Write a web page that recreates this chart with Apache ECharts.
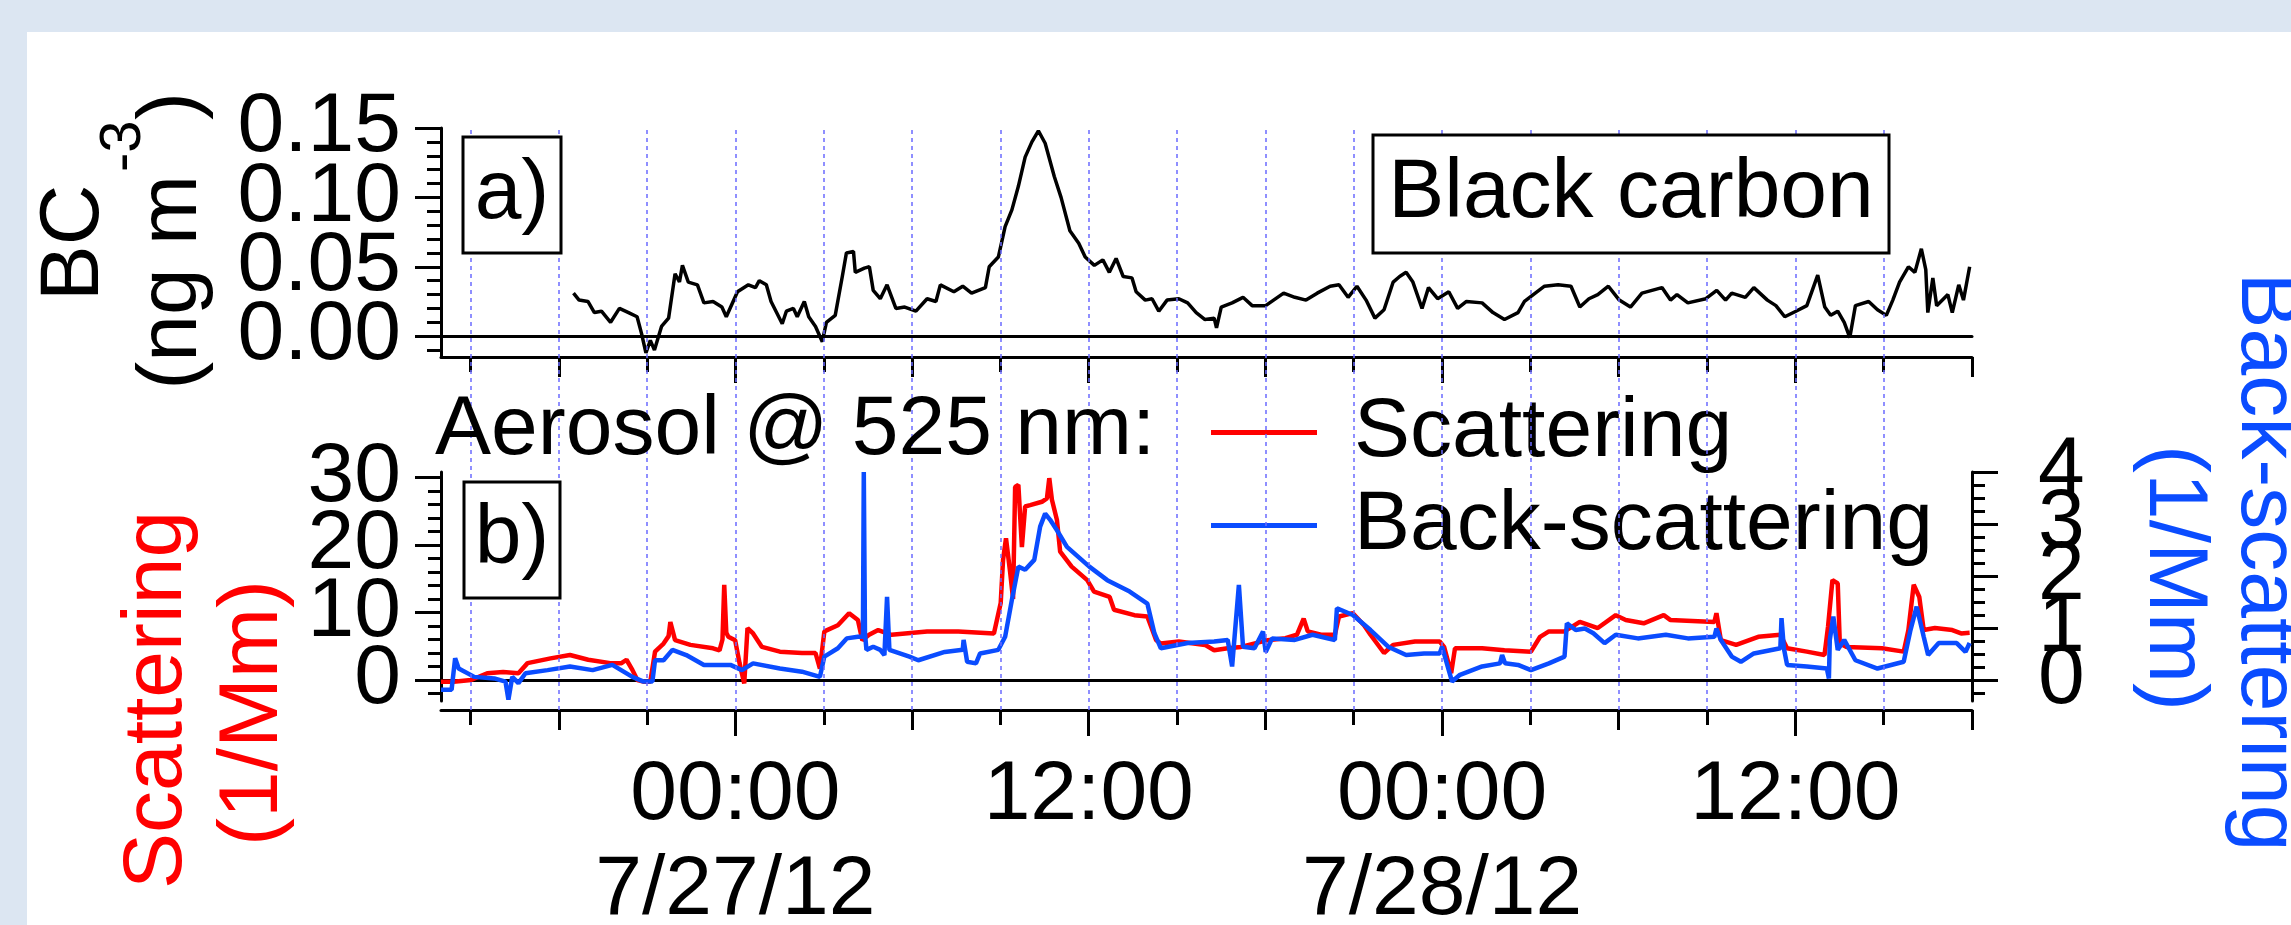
<!DOCTYPE html>
<html>
<head>
    <meta charset="utf-8">
    <title>Black carbon and aerosol scattering</title>
    <script src="https://cdn.jsdelivr.net/npm/echarts@6/dist/echarts.min.js"></script>
    <style>
        html, body { margin: 0; padding: 0; background: #dce6f2; overflow: hidden; }
        #sheet { position: absolute; left: 27px; top: 32px; width: 2264px; height: 893px; background: #fff; }
        #main { position: absolute; left: 0; top: 0; width: 2291px; height: 925px; }
    </style>
</head>
<body>
    <div id="sheet"></div>
    <div id="main"></div>
    <script type="text/javascript">
        // time is in hours from 7/27/12 00:00
        var bcHours = [-5.5,-5.31,-5.01,-4.79,-4.55,-4.24,-3.94,-3.63,-3.34,-3.19,
            -3.04,-2.89,-2.75,-2.51,-2.27,-2.05,-1.9,-1.8,-1.6,-1.29,
            -1.07,-0.76,-0.46,-0.31,0.07,0.44,0.68,0.81,1.05,1.21,
            1.59,1.73,1.97,2.1,2.34,2.49,2.72,2.95,3.09,3.39,
            3.63,3.77,4.01,4.07,4.38,4.55,4.68,4.92,5.15,5.45,
            5.75,6.13,6.51,6.81,6.96,7.42,7.72,8.02,8.49,8.62,
            8.93,9.16,9.39,9.61,9.84,10.07,10.29,10.52,10.83,11.06,
            11.36,11.66,11.88,12.19,12.48,12.7,12.93,13.17,13.47,13.61,
            13.92,14.15,14.38,14.66,15.06,15.36,15.65,15.95,16.26,16.34,
            16.5,16.87,17.24,17.55,18.01,18.62,19.0,19.38,19.76,20.2,
            20.5,20.81,21.11,21.42,21.72,22.03,22.34,22.56,22.78,23.01,
            23.32,23.54,23.85,24.23,24.53,24.83,25.36,25.73,26.12,26.58,
            26.8,27.1,27.48,27.94,28.38,28.68,28.99,29.29,29.65,30.02,
            30.4,30.79,31.47,31.76,31.98,32.35,32.96,33.33,33.63,33.84,
            34.3,34.59,35.05,35.34,35.64,36.02,36.39,36.76,37.0,37.2,
            37.44,37.66,37.85,38.04,38.49,38.79,39.09,39.31,39.54,39.84,
            40.06,40.28,40.43,40.5,40.67,40.8,41.18,41.33,41.55,41.71,
            41.92];
        var bcValues = [0.031,0.026,0.025,0.017,0.018,0.010,0.020,0.017,0.014,0.002,
            -0.012,-0.003,-0.010,0.007,0.013,0.045,0.039,0.051,0.039,0.037,
            0.024,0.025,0.021,0.014,0.032,0.037,0.035,0.040,0.037,0.025,
            0.009,0.018,0.020,0.014,0.025,0.014,0.007,-0.004,0.010,0.015,
            0.043,0.060,0.061,0.046,0.049,0.050,0.033,0.027,0.037,0.020,
            0.021,0.018,0.027,0.025,0.037,0.032,0.036,0.031,0.035,0.050,
            0.057,0.079,0.091,0.108,0.129,0.140,0.148,0.139,0.115,0.100,
            0.076,0.067,0.057,0.051,0.055,0.046,0.056,0.043,0.042,0.032,
            0.026,0.027,0.018,0.026,0.027,0.024,0.017,0.012,0.013,0.006,
            0.021,0.024,0.028,0.022,0.022,0.031,0.028,0.026,0.031,0.036,
            0.037,0.028,0.036,0.026,0.013,0.019,0.039,0.043,0.046,0.039,
            0.020,0.035,0.027,0.032,0.020,0.025,0.024,0.017,0.012,0.017,
            0.025,0.030,0.036,0.037,0.036,0.021,0.027,0.030,0.036,0.026,
            0.021,0.031,0.035,0.026,0.030,0.024,0.027,0.033,0.026,0.031,
            0.028,0.035,0.026,0.022,0.014,0.018,0.022,0.044,0.021,0.015,
            0.018,0.010,-0.001,0.022,0.025,0.019,0.015,0.026,0.039,0.050,
            0.046,0.063,0.048,0.017,0.042,0.022,0.030,0.017,0.037,0.026,
            0.050];

        var scatHours = [-10,-9.57,-8.98,-8.43,-7.89,-7.37,-7.06,-6.28,-5.62,-5,
            -4.25,-3.87,-3.7,-3.5,-3.33,-3.12,-2.89,-2.73,-2.44,-2.27,
            -2.21,-2.05,-1.53,-0.76,-0.54,-0.44,-0.38,-0.31,-0.24,-0.01,
            0.14,0.3,0.41,0.6,0.9,1.51,2.26,2.72,2.87,3.02,
            3.48,3.86,4.16,4.31,4.54,4.85,5.3,6.51,7.57,8.78,
            9.01,9.09,9.19,9.33,9.43,9.5,9.61,9.73,9.84,10.01,
            10.41,10.58,10.66,10.75,10.92,11.03,11.42,11.95,12.18,12.71,
            12.86,13.55,13.99,14.29,14.45,15.06,15.95,16.26,16.72,17.17,
            18.08,18.68,19.07,19.3,19.44,19.89,20.36,20.5,20.97,21.35,
            21.57,22.03,22.34,23.08,23.92,24.07,24.31,24.44,25.36,26.12,
            27.02,27.33,27.63,28.16,28.68,29.29,29.9,30.24,30.85,31.53,
            31.75,33.25,33.32,33.47,33.99,34.74,35.49,35.72,36.39,36.99,
            37.11,37.26,37.44,37.51,37.74,38.94,39.68,39.84,40.02,40.21,
            40.36,40.74,41.33,41.63,41.92];
        var scatValues = [-0.25,-0.25,0,1.0,1.2,1.0,2.5,3.2,3.7,3.0,
            2.5,2.5,3.0,1.5,0,-0.25,-0.25,4.2,5.4,6.5,
            8.6,5.9,5.2,4.7,4.4,6.0,14.1,7.0,6.4,5.9,
            2.5,-0.5,7.7,6.9,4.9,4.2,4.0,4.0,1.7,7.2,
            8.1,9.9,8.9,5.9,6.7,7.4,6.7,7.2,7.2,6.9,
            11.4,17.8,21.0,16.0,12.0,28.6,28.9,19.7,25.7,25.9,
            26.4,26.9,29.9,26.7,23.7,19.0,16.8,14.8,13.1,12.3,
            10.4,9.6,9.4,5.9,5.4,5.7,5.2,4.4,4.7,4.9,
            5.9,6.2,6.7,9.1,7.2,6.7,6.7,9.4,9.9,8.1,
            6.7,4.0,5.2,5.7,5.7,4.9,1.0,4.7,4.7,4.4,
            4.2,6.4,7.2,7.2,8.6,7.7,9.6,8.9,8.4,9.6,
            8.9,8.6,9.9,5.9,5.2,6.4,6.7,4.7,4.2,3.7,
            7.9,14.8,14.3,5.4,4.9,4.7,4.2,7.4,14.1,12.3,
            7.4,7.7,7.4,6.9,7.0];

        var backHours = [-10,-9.64,-9.52,-9.4,-8.87,-8.19,-7.81,-7.71,-7.58,-7.37,
            -7.13,-6.38,-5.62,-4.85,-4.18,-3.5,-3.12,-2.82,-2.73,-2.44,
            -2.14,-1.67,-1.07,-0.17,0.22,0.6,1.51,2.26,2.87,3.02,
            3.48,3.78,4.16,4.33,4.36,4.4,4.45,4.68,4.92,5.06,
            5.15,5.23,5.91,6.21,7.11,7.72,7.75,7.87,8.17,8.31,
            8.93,9.16,9.39,9.61,9.84,10.15,10.35,10.52,10.69,10.92,
            11.26,12.02,12.63,13.39,13.99,14.23,14.45,15.36,16.26,16.72,
            16.87,17.1,17.24,17.63,17.92,18.01,18.23,19,19.6,20.36,
            20.43,20.97,21.57,22.17,22.78,23.39,23.92,24,24.34,24.61,
            25.36,25.97,26.04,26.14,26.58,27.02,27.63,28.16,28.24,28.54,
            28.85,29.14,29.52,29.9,30.65,31.6,32.35,33.25,33.32,33.47,
            33.84,34.15,34.59,35.49,35.53,35.61,35.72,36.39,37.07,37.14,
            37.17,37.29,37.44,37.66,38.04,38.79,39.68,39.91,40.12,40.36,
            40.51,40.87,41.48,41.78,41.92];
        var backValues = [-0.19,-0.19,0.42,0.22,0.06,0.03,-0.03,-0.38,0.06,-0.06,
            0.13,0.19,0.26,0.19,0.29,0.06,-0.03,-0.03,0.38,0.38,
            0.58,0.48,0.29,0.29,0.19,0.32,0.22,0.16,0.06,0.45,
            0.61,0.8,0.83,0.83,4.0,0.9,0.58,0.64,0.58,0.48,
            1.6,0.58,0.45,0.38,0.54,0.58,0.77,0.35,0.32,0.51,
            0.58,0.83,1.54,2.18,2.12,2.31,2.95,3.2,3.08,2.88,
            2.56,2.18,1.92,1.7,1.47,0.9,0.61,0.71,0.74,0.77,
            0.26,1.83,0.64,0.61,0.93,0.54,0.8,0.77,0.87,0.77,
            1.38,1.25,0.96,0.64,0.48,0.51,0.51,0.64,-0.03,0.1,
            0.26,0.32,0.48,0.32,0.29,0.19,0.32,0.45,1.09,0.96,
            0.99,0.9,0.71,0.87,0.8,0.87,0.8,0.83,0.99,0.77,
            0.45,0.35,0.51,0.61,1.19,0.61,0.29,0.26,0.22,0.03,
            0.77,1.22,0.58,0.77,0.38,0.22,0.35,0.96,1.41,0.83,
            0.48,0.71,0.71,0.54,0.71];

        // ticks and labels
        var hourTicksLong = [0, 12, 24, 36];
        var hourTicksMid = [-6, 6, 18, 30, 42];
        var hourTicksShort = [-9, -3, 3, 9, 15, 21, 27, 33, 39];
        var guideHours = [-9, -6, -3, 0, 3, 6, 9, 12, 15, 18, 21, 24, 27, 30, 33, 36, 39];
        var timeLabelHours = [0, 12, 24, 36];
        var timeLabelText = ['00:00\n7/27/12', '12:00', '00:00\n7/28/12', '12:00'];
        var bcTicks = [0, 0.05, 0.10, 0.15];
        var bcMinor = [-0.01, 0.01, 0.02, 0.03, 0.04, 0.06, 0.07, 0.08, 0.09, 0.11, 0.12, 0.13, 0.14];
        var bcLabelSets = [[0, 0.10], [0.05, 0.15]];
        var scatTicks = [0, 10, 20, 30];
        var scatMinor = [-2, 2, 4, 6, 8, 12, 14, 16, 18, 22, 24, 26, 28];
        var scatLabelSets = [[0, 20], [10, 30]];
        var backTicks = [0, 1, 2, 3, 4];
        var backMinor = [-0.25, 0.25, 0.5, 0.75, 1.25, 1.5, 1.75, 2.25, 2.5, 2.75, 3.25, 3.5, 3.75];
        var backLabelSets = [[0, 3], [1, 4], [2]];

        var FONT = "'Liberation Sans', Arial, Helvetica, sans-serif";
        var RED = '#ff0000';
        var BLUE = '#0a4cff';
        var BLACK_LINE = { color: '#000', width: 3 };

        function pairs(xs, ys) {
            return xs.map(function (x, i) { return [x, ys[i]]; });
        }

        function hourAxis(grid, ticks, len, extra) {
            var ax = {
                type: 'value', gridIndex: grid, position: 'bottom', min: -10, max: 42,
                axisLine: { show: false, onZero: false },
                axisTick: { show: true, customValues: ticks, length: len, lineStyle: BLACK_LINE },
                axisLabel: { show: false },
                splitLine: { show: false }
            };
            return Object.assign(ax, extra || {});
        }

        function zeroAxis(grid) {
            return {
                type: 'value', gridIndex: grid, position: 'bottom', min: -10, max: 42,
                axisLine: { show: true, onZero: true, lineStyle: BLACK_LINE },
                axisTick: { show: false }, axisLabel: { show: false }, splitLine: { show: false }
            };
        }

        // axis line + ticks only
        function tickAxis(grid, pos, min, max, ticks, len, line) {
            return {
                type: 'value', gridIndex: grid, position: pos, min: min, max: max,
                axisLine: { show: line, onZero: false, lineStyle: BLACK_LINE },
                axisTick: { show: true, customValues: ticks, length: len, lineStyle: BLACK_LINE },
                axisLabel: { show: false },
                splitLine: { show: false }
            };
        }

        // labels only, a few per axis so none of them get dropped
        function labelAxis(grid, pos, min, max, values, margin, fmt) {
            return {
                type: 'value', gridIndex: grid, position: pos, min: min, max: max,
                axisLine: { show: false, onZero: false },
                axisTick: { show: false },
                axisLabel: {
                    show: true, customValues: values, color: '#000',
                    fontSize: 84, fontFamily: FONT, margin: margin,
                    showMinLabel: true, showMaxLabel: true, hideOverlap: false,
                    formatter: fmt
                },
                splitLine: { show: false }
            };
        }

        var bcFmt = function (v) { return v.toFixed(2); };
        var intFmt = function (v) { return String(Math.round(v)); };

        var yAxes = [
            tickAxis(0, 'left', -0.015, 0.15, bcTicks, 26, true),
            tickAxis(0, 'left', -0.015, 0.15, bcMinor, 14, false),
            labelAxis(0, 'left', -0.015, 0.15, bcLabelSets[0], 40, bcFmt),
            labelAxis(0, 'left', -0.015, 0.15, bcLabelSets[1], 40, bcFmt),
            tickAxis(1, 'left', -3.11, 30.81, scatTicks, 26, true),
            tickAxis(1, 'left', -3.11, 30.81, scatMinor, 13, false),
            labelAxis(1, 'left', -3.11, 30.81, scatLabelSets[0], 40, intFmt),
            labelAxis(1, 'left', -3.11, 30.81, scatLabelSets[1], 40, intFmt),
            tickAxis(1, 'right', -0.404, 4.0, backTicks, 26, true),
            tickAxis(1, 'right', -0.404, 4.0, backMinor, 13, false),
            labelAxis(1, 'right', -0.404, 4.0, backLabelSets[0], 66, intFmt),
            labelAxis(1, 'right', -0.404, 4.0, backLabelSets[1], 66, intFmt),
            labelAxis(1, 'right', -0.404, 4.0, backLabelSets[2], 66, intFmt),
            { type: 'value', gridIndex: 2, min: 0, max: 1, show: false }
        ];

        var mainLine = { show: true, onZero: false, lineStyle: BLACK_LINE };

        function txt(x, y, text, opts) {
            opts = opts || {};
            var align = opts.align || 'center';
            return {
                type: 'text', z: 51, x: x, y: y, rotation: opts.rotation || 0,
                style: {
                    text: text, fontSize: opts.size || 84, fontFamily: FONT, fill: opts.color || '#000',
                    align: align, verticalAlign: 'middle', textAlign: align, textVerticalAlign: 'middle'
                }
            };
        }

        function box(x, y, w, h) {
            return { type: 'rect', z: 50, shape: { x: x, y: y, width: w, height: h }, style: { fill: '#fff', stroke: '#000', lineWidth: 3 } };
        }

        var myChart = echarts.init(document.getElementById('main'), null, { renderer: 'canvas' });

        var option = {
            backgroundColor: 'transparent',
            animation: false,
            grid: [
                { left: 441, right: 319, top: 128, height: 229, outerBoundsMode: 'none' },
                { left: 441, right: 319, top: 472, height: 229, outerBoundsMode: 'none' },
                { left: 441, right: 319, top: 128, height: 582, outerBoundsMode: 'none' }
            ],
            legend: {
                data: ['Scattering', 'Back-scattering'],
                orient: 'vertical',
                left: 1211, top: 386,
                padding: 0, itemGap: 0,
                itemWidth: 106, itemHeight: 5,
                icon: 'rect',
                textStyle: { color: '#000', fontSize: 84, fontFamily: FONT, lineHeight: 93, padding: [0, 0, 0, 32] }
            },
            xAxis: [
                hourAxis(0, hourTicksLong, 26, { axisLine: mainLine }),
                hourAxis(0, hourTicksMid, 20),
                hourAxis(0, hourTicksShort, 15),
                zeroAxis(0),
                hourAxis(1, hourTicksLong, 26, {
                    offset: 9,
                    axisLine: mainLine,
                    axisLabel: {
                        show: true, customValues: timeLabelHours, color: '#000',
                        fontSize: 84, fontFamily: FONT, lineHeight: 95, margin: 38,
                        formatter: function (v) {
                            var i = timeLabelHours.indexOf(Math.round(v));
                            return i < 0 ? '' : timeLabelText[i];
                        }
                    }
                }),
                hourAxis(1, hourTicksMid, 20, { offset: 9 }),
                hourAxis(1, hourTicksShort, 15, { offset: 9 }),
                zeroAxis(1),
                { type: 'value', gridIndex: 2, min: -10, max: 42, show: false }
            ],
            yAxis: yAxes,
            series: [
                {
                    name: 'guides', type: 'line', xAxisIndex: 8, yAxisIndex: 13, data: [], z: 1,
                    markLine: {
                        silent: true, symbol: 'none', animation: false,
                        label: { show: false },
                        lineStyle: { color: '#6b6bff', width: 1.5, type: [4, 4] },
                        data: guideHours.map(function (h) { return { xAxis: h }; })
                    }
                },
                {
                    name: 'Black carbon', type: 'line', xAxisIndex: 0, yAxisIndex: 0, z: 3,
                    data: pairs(bcHours, bcValues), symbol: 'none',
                    lineStyle: { color: '#000', width: 3.5 }, itemStyle: { color: '#000' }
                },
                {
                    name: 'Scattering', type: 'line', xAxisIndex: 4, yAxisIndex: 4, z: 3,
                    data: pairs(scatHours, scatValues), symbol: 'none',
                    lineStyle: { color: RED, width: 4.5 }, itemStyle: { color: RED }
                },
                {
                    name: 'Back-scattering', type: 'line', xAxisIndex: 4, yAxisIndex: 8, z: 4,
                    data: pairs(backHours, backValues), symbol: 'none',
                    lineStyle: { color: BLUE, width: 4.5 }, itemStyle: { color: BLUE }
                }
            ],
            graphic: [
                box(463, 137, 98, 116), txt(512, 195, 'a)'),
                box(464, 482, 96, 116), txt(512, 540, 'b)'),
                box(1373, 135, 516, 118), txt(1631, 194, 'Black carbon'),
                txt(435, 431, 'Aerosol @ 525 nm:', { align: 'left' }),
                txt(75, 243, 'BC', { rotation: Math.PI / 2 }),
                txt(173, 175, '(ng m', { rotation: Math.PI / 2, align: 'right' }),
                txt(124, 172, '-3', { rotation: Math.PI / 2, align: 'left', size: 58 }),
                txt(173, 120, ')', { rotation: Math.PI / 2, align: 'left' }),
                txt(158, 700, 'Scattering', { rotation: Math.PI / 2, color: RED }),
                txt(254, 713, '(1/Mm)', { rotation: Math.PI / 2, color: RED }),
                txt(2173, 578, '(1/Mm)', { rotation: -Math.PI / 2, color: BLUE }),
                txt(2265, 562, 'Back-scattering', { rotation: -Math.PI / 2, color: BLUE })
            ]
        };

        myChart.setOption(option);
    </script>
</body>
</html>
